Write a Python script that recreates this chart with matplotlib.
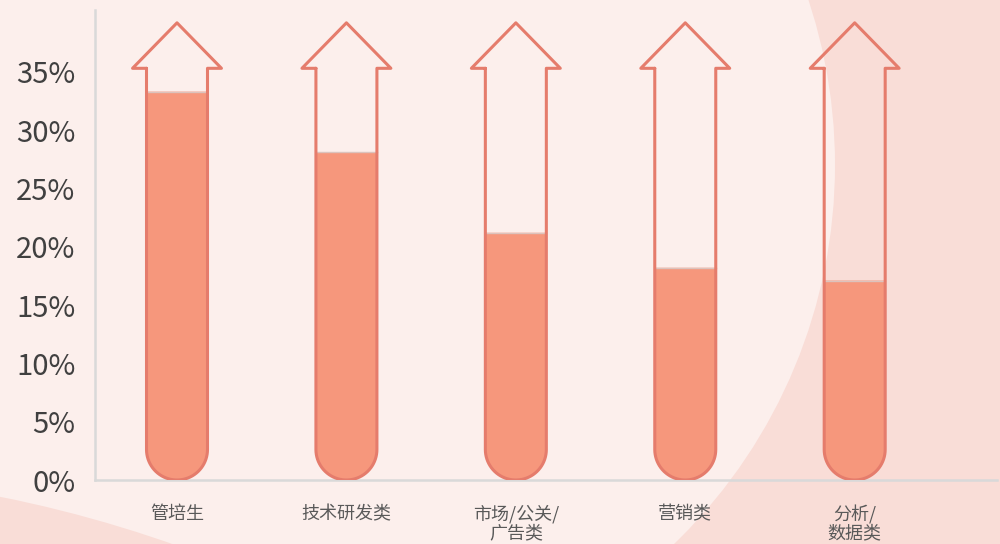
import numpy as np
import matplotlib
matplotlib.use("Agg")
import matplotlib.pyplot as plt
from matplotlib.patches import Ellipse

plt.rcParams['font.family'] = ['Noto Sans CJK SC', 'DejaVu Sans']

categories = ["管培生", "技术研发类", "市场/公关/\n广告类", "营销类", "分析/\n数据类"]
values = [33.3, 28.1, 21.2, 18.2, 17.1]
yticks = [0, 5, 10, 15, 20, 25, 30, 35]
ytick_labels = ["0%", "5%", "10%", "15%", "20%", "25%", "30%", "35%"]

W, H = 1000, 544
fig = plt.figure(figsize=(10, 5.44), dpi=100)
fig.patch.set_facecolor("#f9ddd7")

# background shapes (pixel coords -> figure fraction)
light = Ellipse((305 / W, 1 - 165 / H), 2 * 530 / W, 2 * 528 / H,
                transform=fig.transFigure, facecolor="#fcefec", edgecolor="none", zorder=-2)
fig.patches.append(light)
dark = Ellipse((-250 / W, 1 - 1747 / H), 2 * 1275 / W, 2 * 1275 / H,
               transform=fig.transFigure, facecolor="#f9ddd7", edgecolor="none", zorder=-1)
fig.patches.append(dark)

ax = fig.add_axes([95 / W, 64 / H, 902 / W, 470 / H])
ax.set_zorder(1)
ax.set_facecolor("none")
ax.set_xlim(-0.484, 4.84)
ax.set_ylim(0, 40.3)

hw = 0.18        # tube half width
aw = 0.2625      # arrow wing half width
shoulder = 35.3
tip = 39.2
ry = 2.615       # vertical radius of rounded bottom

t = np.linspace(np.pi, 2 * np.pi, 40)

for i, v in enumerate(values):
    c = i
    arc_x = c + hw * np.cos(t)
    arc_y = ry + ry * np.sin(t)
    # liquid fill
    fx = np.concatenate([[c - hw], arc_x, [c + hw]])
    fy = np.concatenate([[v], arc_y, [v]])
    ax.fill(fx, fy, color="#f6977c", zorder=2, lw=0)
    ax.plot([c - hw, c + hw], [v, v], color="#dcc3bd", lw=1, zorder=3)
    # tube + arrow outline
    ox = np.concatenate([[c - hw], arc_x, [c + hw, c + hw, c + aw, c, c - aw, c - hw]])
    oy = np.concatenate([[shoulder], arc_y, [ry, shoulder, shoulder, tip, shoulder, shoulder]])
    ax.plot(ox, oy, color="#e57c6c", lw=2.2, zorder=4, solid_joinstyle="round", solid_capstyle="round")

for s in ["top", "right"]:
    ax.spines[s].set_visible(False)
for s in ["left", "bottom"]:
    ax.spines[s].set_color("#d9d9d9")
    ax.spines[s].set_linewidth(1.8)

ax.set_yticks(yticks)
ax.set_yticklabels(ytick_labels, fontsize=21, color="#404040")
ax.set_xticks(range(len(categories)))
ax.set_xticklabels(categories, fontsize=13, color="#595959", linespacing=1.05)
ax.tick_params(axis="both", length=0)
ax.tick_params(axis="y", pad=14)
ax.tick_params(axis="x", pad=18)
for lbl in ax.get_xticklabels():
    lbl.set_verticalalignment("top")

fig.savefig("out.png", dpi=100, facecolor=fig.get_facecolor())
